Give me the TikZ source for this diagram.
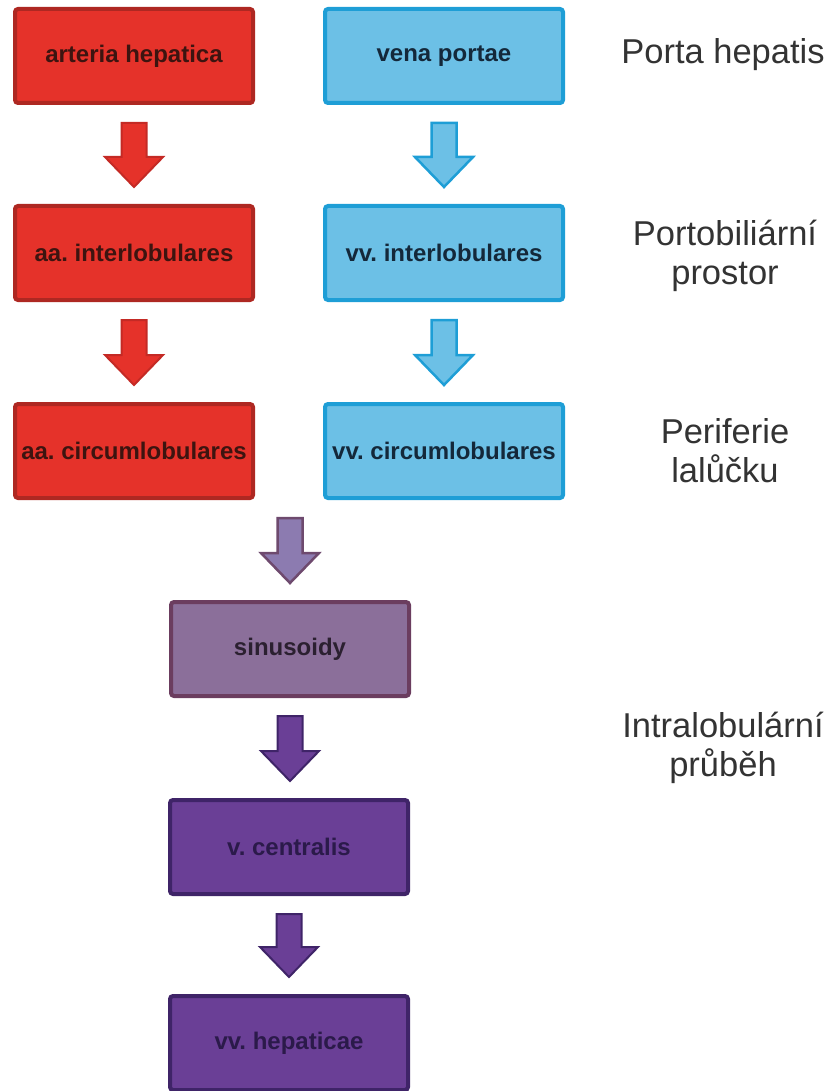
\documentclass[tikz,border=0pt]{standalone}
\usepackage{fontspec}
\setmainfont{Liberation Sans}
\usetikzlibrary{calc}
\frenchspacing
\definecolor{redfill}{HTML}{E5322A}
\definecolor{redline}{HTML}{AE2822}
\definecolor{redarr}{HTML}{C42A25}
\definecolor{redtext}{HTML}{3D1410}
\definecolor{bluefill}{HTML}{6CC0E6}
\definecolor{blueline}{HTML}{1E9ED6}
\definecolor{bluetext}{HTML}{14283A}
\definecolor{sinfill}{HTML}{8B6F9A}
\definecolor{sinline}{HTML}{6B3D5F}
\definecolor{sinarrfill}{HTML}{8C7BB0}
\definecolor{sinarrline}{HTML}{6E4A6E}
\definecolor{sintext}{HTML}{2B2030}
\definecolor{darkfill}{HTML}{6A3F96}
\definecolor{darkline}{HTML}{3F2468}
\definecolor{darktext}{HTML}{2B1A4A}
\definecolor{labeltext}{HTML}{333333}
\newcommand{\blockarrow}[3]{%
  \draw[#1] let \p1=#2, \p2=#3 in
    (\x1-12.5pt,\y1-18pt) -- (\x1+12.5pt,\y1-18pt) -- (\x1+12.5pt,\y2+47pt)
    -- (\x1+29pt,\y2+47pt) -- (\x1,\y2+17pt) -- (\x1-29pt,\y2+47pt)
    -- (\x1-12.5pt,\y2+47pt) -- cycle;}
\tikzset{
  box/.style={rectangle, rounded corners=3pt, line width=4pt, minimum width=238pt,
    minimum height=94pt, inner sep=0pt, font=\fontsize{24}{28}\selectfont\bfseries},
  redbox/.style={box, fill=redfill, draw=redline, text=redtext},
  bluebox/.style={box, fill=bluefill, draw=blueline, text=bluetext},
  sinbox/.style={box, fill=sinfill, draw=sinline, text=sintext},
  darkbox/.style={box, fill=darkfill, draw=darkline, text=darktext},
  redarrow/.style={fill=redfill, draw=redarr, line width=2pt, line join=miter},
  bluearrow/.style={fill=bluefill, draw=blueline, line width=2.5pt, line join=miter},
  sinarrow/.style={fill=sinarrfill, draw=sinarrline, line width=2.5pt, line join=miter},
  darkarrow/.style={fill=darkfill, draw=darkline, line width=2pt, line join=miter},
  sidelabel/.style={align=center, text=labeltext, font=\fontsize{34.5}{39}\selectfont}
}
\begin{document}
\begin{tikzpicture}[x=1pt,y=-1pt]
\useasboundingbox (0,0) rectangle (833,1091);
\node[redbox] (ah) at (134,56) {arteria hepatica};
\node[bluebox] (vp) at (444,56) {vena portae};
\node[redbox] (ai) at (134,253) {aa. interlobulares};
\node[bluebox] (vi) at (444,253) {vv. interlobulares};
\node[redbox] (ac) at (134,451) {aa. circumlobulares};
\node[bluebox] (vc) at (444,451) {vv. circumlobulares};
\node[sinbox] (sin) at (290,649) {sinusoidy};
\node[darkbox] (vcen) at (289,847) {v. centralis};
\node[darkbox] (vh) at (289,1043) {vv. hepaticae};

\node[sidelabel] (l1) at (723,55) {Porta hepatis};
\node[sidelabel] (l2) at (725,256) {Portobiliární\\prostor};
\node[sidelabel] (l3) at (725,451) {Periferie\\lalůčku};
\node[sidelabel] (l4) at (723,748) {Intralobulární\\průběh};

\blockarrow{redarrow}{(ah.south)}{(ai.north)}
\blockarrow{redarrow}{(ai.south)}{(ac.north)}
\blockarrow{bluearrow}{(vp.south)}{(vi.north)}
\blockarrow{bluearrow}{(vi.south)}{(vc.north)}
\coordinate (merge) at (sin.north |- ac.south);
\blockarrow{sinarrow}{(merge)}{(sin.north)}
\blockarrow{darkarrow}{(sin.south)}{(vcen.north)}
\blockarrow{darkarrow}{(vcen.south)}{(vh.north)}
\end{tikzpicture}
\end{document}
